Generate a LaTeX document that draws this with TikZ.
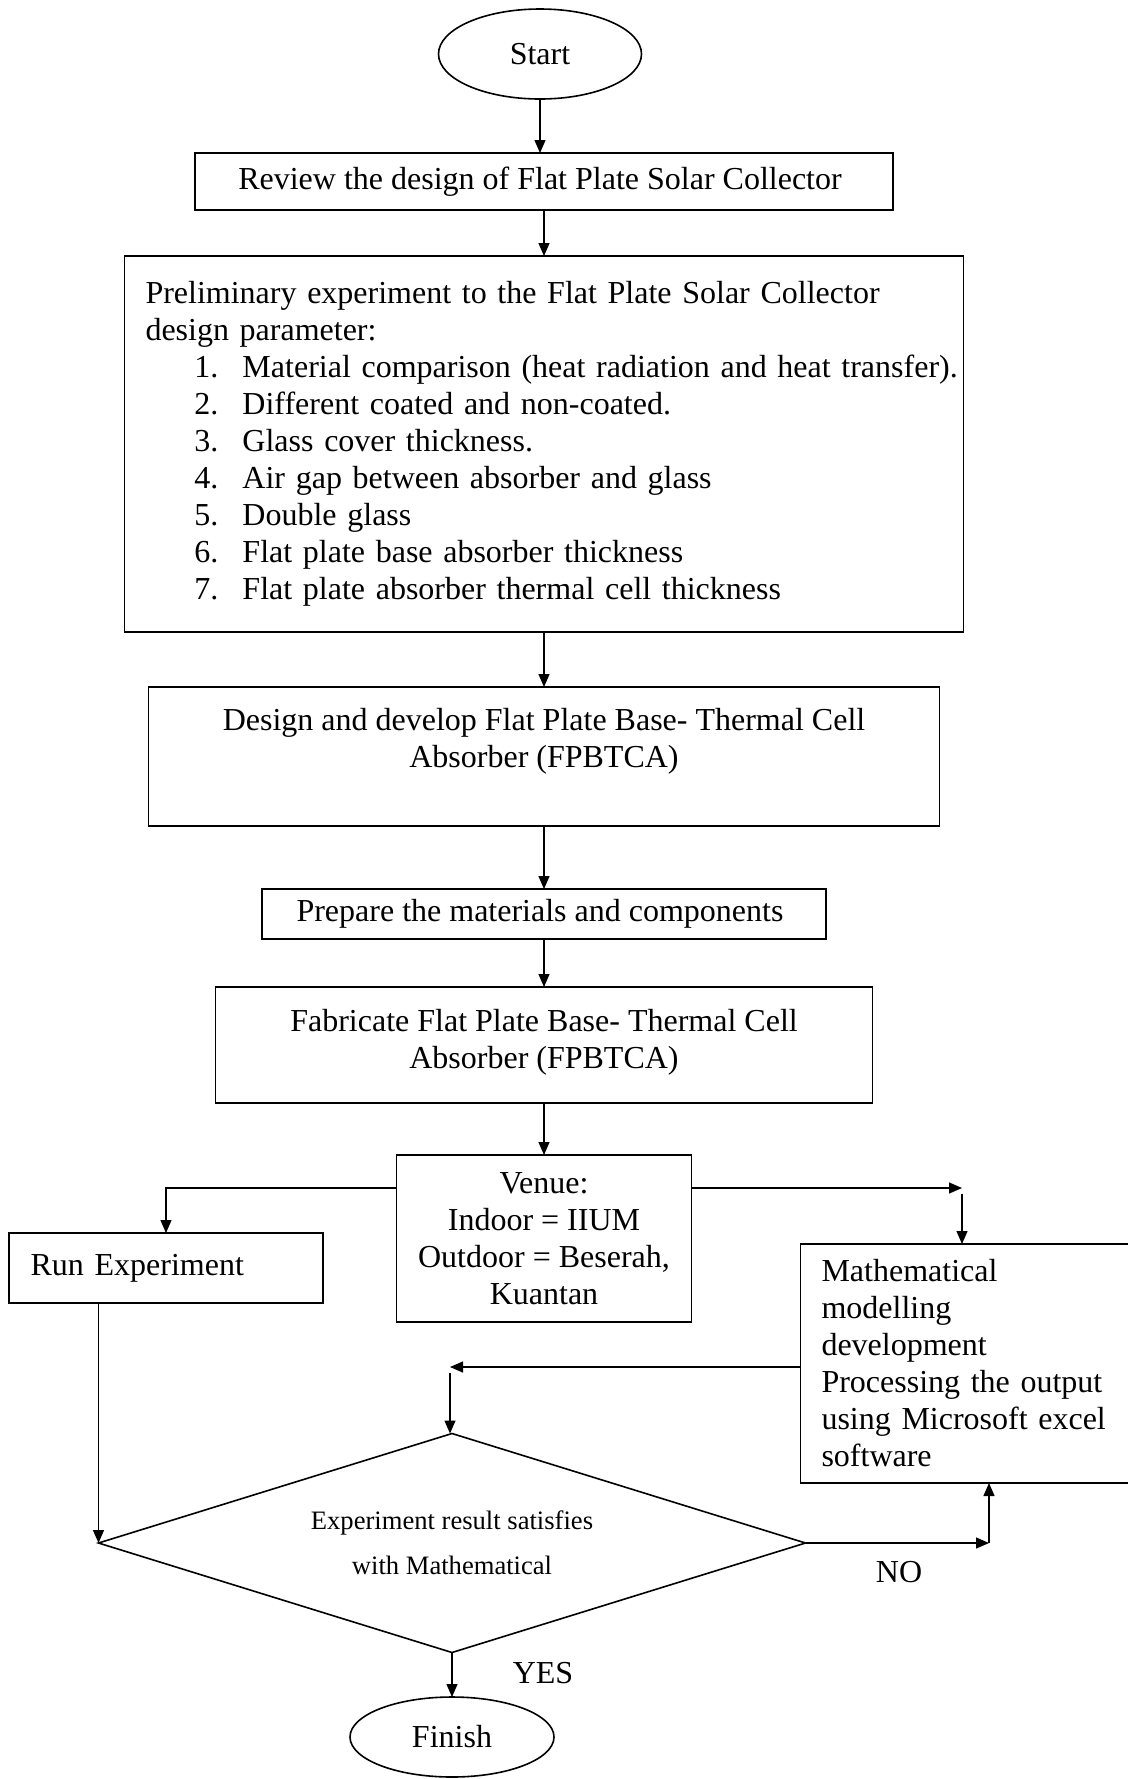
\documentclass[tikz,border=0pt]{standalone}
\usepackage{fontspec}
\setmainfont{Liberation Serif}
\usetikzlibrary{arrows.meta, positioning, shapes.geometric}
\newcommand{\flowfont}{\fontsize{16}{18.5}\selectfont}
\newcommand{\decfont}{\fontsize{13.3}{22.5}\selectfont}
\newcommand{\numitem}[2]{\hspace*{24.5pt}\makebox[24pt][l]{#1}\mbox{#2}}
\tikzset{
  box/.style={
    draw=black,
    line width=0.9pt,
    align=center,
    inner sep=4pt,
    outer sep=0pt,
    font=\flowfont
  },
  terminal/.style={
    ellipse,
    draw=black,
    line width=0.8pt,
    inner sep=0pt,
    outer sep=0pt,
    font=\flowfont
  },
  listbox/.style={
    box,
    align=left,
    inner xsep=10.5pt,
    text width=398.5pt,
    minimum height=188pt
  },
  runbox/.style={
    box,
    align=left,
    inner xsep=10.8pt,
    text width=135.4pt,
    minimum height=35pt
  },
  mathbox/.style={
    box,
    align=left,
    inner xsep=10.5pt,
    text width=149pt,
    minimum height=119.5pt
  },
  decision/.style={
    diamond,
    draw=black,
    line width=0.8pt,
    shape aspect=3.2,
    inner sep=0pt,
    outer sep=0pt,
    align=center,
    minimum width=353.5pt,
    minimum height=109.5pt,
    font=\decfont
  },
  arrow/.style={
    -{Triangle[length=6.5pt, width=5.5pt]},
    line width=0.65pt,
    draw=black
  },
  tag/.style={
    inner sep=0pt,
    font=\flowfont
  }
}
\begin{document}
\begin{tikzpicture}

\useasboundingbox (0,0) rectangle (564pt,-889.5pt);

\node[terminal, minimum width=101.5pt, minimum height=45pt] (start) at (270pt,-27pt) {Start};

\node[box, below=27pt of start, xshift=2pt, minimum width=349pt, minimum height=28.5pt] (review) {
  Review the design of Flat Plate Solar Collector
};

\node[listbox, below=23pt of review] (prelim) {
  Preliminary experiment to the Flat Plate Solar Collector\\
  design parameter:\\
  \numitem{1.}{Material comparison (heat radiation and heat transfer).}\\
  \numitem{2.}{Different coated and non-coated.}\\
  \numitem{3.}{Glass cover thickness.}\\
  \numitem{4.}{Air gap between absorber and glass}\\
  \numitem{5.}{Double glass}\\
  \numitem{6.}{Flat plate base absorber thickness}\\
  \numitem{7.}{Flat plate absorber thermal cell thickness}
};

\node[box, below=27.5pt of prelim, minimum width=395.5pt, minimum height=69.5pt] (design) {
  Design and develop Flat Plate Base- Thermal Cell\\
  Absorber (FPBTCA)\\
  \mbox{}
};

\node[box, below=31.5pt of design, minimum width=282pt, minimum height=25pt] (prepare) {
  Prepare the materials and components
};

\node[box, below=24pt of prepare, minimum width=328.5pt, minimum height=58pt] (fabricate) {
  Fabricate Flat Plate Base- Thermal Cell\\
  Absorber (FPBTCA)\\[-12pt]
  \mbox{}
};

\node[box, below=26pt of fabricate, minimum width=147.5pt, minimum height=83.5pt] (venue) {
  Venue:\\
  Indoor = IIUM\\
  Outdoor = Beserah,\\
  Kuantan
};

\node[runbox] (run) at (83pt,-634pt) {Run Experiment};

\node[mathbox] (math) at (485.25pt,-681.75pt) {
  Mathematical\\
  modelling\\
  development\\
  \makebox[143.5pt][s]{Processing the output}\\
  \makebox[143.5pt][s]{using Microsoft excel}\\
  software
};

\node[decision] (dec) at (226pt,-771.5pt) {
  Experiment result satisfies\\
  with Mathematical
};

\node[terminal, below=22.25pt of dec, minimum width=102pt, minimum height=40pt] (finish) {Finish};

\coordinate (venueright) at (481pt,-594pt);
\coordinate (loopback) at (225pt,-683.5pt);
\coordinate (noturn) at (494.5pt,-771.5pt);

\draw[arrow] (start.south) -- (start.south |- review.north);
\draw[arrow] (review.south) -- (prelim.north);
\draw[arrow] (prelim.south) -- (design.north);
\draw[arrow] (design.south) -- (prepare.north);
\draw[arrow] (prepare.south) -- (fabricate.north);
\draw[arrow] (fabricate.south) -- (venue.north);
\draw[arrow] (venue.west |- venueright) -| (run.north);
\draw[arrow] (venue.east |- venueright) -- (venueright);
\draw[arrow] ([yshift=-3pt]venueright) -- (venueright |- math.north);
\draw[arrow] (math.west |- loopback) -- (loopback);
\draw[arrow] ([yshift=-3pt]loopback) -- (loopback |- dec.north);
\draw[arrow] (run.south -| dec.west) -- (dec.west);
\draw[arrow] (dec.east) -- (noturn);
\draw[arrow] (noturn) -- (noturn |- math.south);
\draw[arrow] (dec.south) -- (finish.north);

\node[tag] (nolabel) at (449.5pt,-786pt) {NO};
\node[tag] (yeslabel) at (271.5pt,-836.5pt) {YES};

\end{tikzpicture}
\end{document}
